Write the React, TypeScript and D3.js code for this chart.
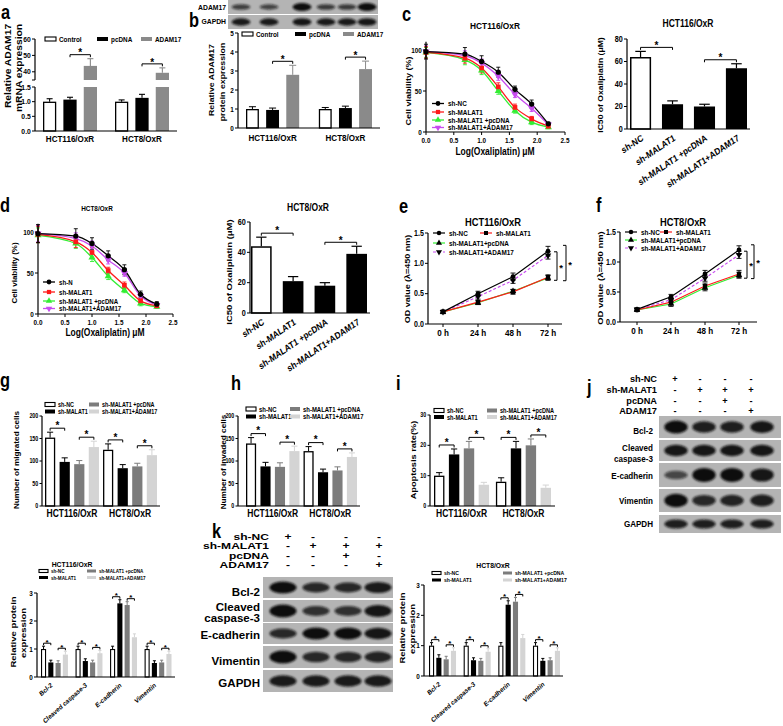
import React from 'react';
import * as d3 from 'd3';

const FF = '"Liberation Sans", Arial, Helvetica, sans-serif';
const SX = 0.85;

// ---------------- DATA ----------------
// panels a & b
const abGroups = ['HCT116/OxR', 'HCT8/OxR'];
const abSeries = ['Control', 'pcDNA', 'ADAM17'];
const aMean = [[1.0, 1.07, 43.6], [1.0, 1.13, 39.4]];
const aErr = [[0.1, 0.08, 4.4], [0.06, 0.12, 3.0]];
const aTicksLow = [0, 0.5, 1.0, 1.5];
const aTicksHigh = [40, 50, 60];
const bMean = [[1.0, 0.95, 2.8], [1.0, 1.05, 3.1]];
const bErr = [[0.12, 0.1, 0.5], [0.08, 0.1, 0.42]];
const bTicks = [0, 1, 2, 3, 4, 5];
const bBlotLabels = ['ADAM17', 'GAPDH'];
const bBlotBands = [[0.45, 0.4, 1.0, 0.5, 0.5, 1.0], [0.85, 0.85, 0.9, 0.85, 0.85, 0.9]];

// panels c & d (dose response)
const doseSeries = ['sh-NC', 'sh-MALAT1', 'sh-MALAT1 +pcDNA', 'sh-MALAT1+ADAM17'];
const dLegendLabels = ['sh-N', 'sh-MALAT1', 'sh-MALAT1 +pcDNA', 'sh-MALAT1+ADAM17'];
const logDose = [0, 0.7, 1.0, 1.3, 1.6, 1.9, 2.2];
const doseTicksX = [0, 0.5, 1.0, 1.5, 2.0, 2.5];
const doseTicksY = [0, 50, 100];
const cViab = [
  [98, 95, 86, 73, 52, 34, 10],
  [97, 90, 78, 55, 30, 16, 7],
  [97, 88, 75, 50, 26, 12, 6],
  [98, 93, 84, 68, 46, 29, 9],
];
const cViabErr = [
  [9, 8, 7, 6, 4, 5, 2],
  [7, 6, 6, 5, 4, 3, 2],
  [6, 6, 5, 4, 3, 3, 2],
  [7, 6, 5, 5, 4, 4, 2],
];
const dViab = [
  [98, 95, 86, 71, 54, 24, 12],
  [97, 88, 75, 53, 35, 16, 10],
  [96, 86, 69, 46, 29, 13, 9],
  [98, 92, 83, 66, 50, 22, 11],
];
const dViabErr = [
  [11, 9, 7, 6, 6, 4, 3],
  [10, 7, 6, 4, 4, 3, 2],
  [9, 6, 5, 4, 3, 3, 2],
  [10, 7, 6, 5, 4, 3, 2],
];
const icCats = ['sh-NC', 'sh-MALAT1', 'sh-MALAT1 +pcDNA', 'sh-MALAT1+ADAM17'];
const cIC50 = [64, 22, 20, 54];
const cIC50Err = [5, 3, 2, 4];
const cIC50Ticks = [0, 20, 40, 60, 80];
const dIC50 = [44, 21, 18, 39];
const dIC50Err = [6, 3, 2, 5];
const dIC50Ticks = [0, 20, 40, 60];

// panels e & f (OD growth)
const timeLabels = ['0 h', '24 h', '48 h', '72 h'];
const odSeries = ['sh-NC', 'sh-MALAT1', 'sh-MALAT1+pcDNA', 'sh-MALAT1+ADAM17'];
const odTicks = [0, 0.5, 1.0, 1.5];
const eOD = [
  [0.2, 0.5, 0.78, 1.2],
  [0.2, 0.36, 0.53, 0.77],
  [0.2, 0.35, 0.54, 0.76],
  [0.2, 0.45, 0.72, 1.13],
];
const eODErr = [
  [0.03, 0.04, 0.06, 0.08],
  [0.02, 0.03, 0.04, 0.04],
  [0.02, 0.03, 0.03, 0.04],
  [0.02, 0.04, 0.05, 0.06],
];
const fOD = [
  [0.21, 0.42, 0.8, 1.2],
  [0.2, 0.33, 0.6, 0.8],
  [0.2, 0.3, 0.57, 0.78],
  [0.21, 0.37, 0.73, 1.12],
];
const fODErr = [
  [0.02, 0.04, 0.06, 0.07],
  [0.02, 0.04, 0.05, 0.06],
  [0.02, 0.04, 0.05, 0.05],
  [0.02, 0.04, 0.05, 0.06],
];

// panels g, h, i
const cellGroups = ['HCT116/OxR', 'HCT8/OxR'];
const fourSeries = ['sh-NC', 'sh-MALAT1', 'sh-MALAT1 +pcDNA', 'sh-MALAT1+ADAM17'];
const gMean = [[152, 98, 93, 131], [125, 84, 88, 113]];
const gErr = [[12, 9, 8, 13], [13, 8, 7, 12]];
const ghTicks = [0, 50, 100, 150, 200];
const hMean = [[139, 88, 87, 122], [122, 75, 79, 109]];
const hErr = [[13, 9, 9, 11], [10, 7, 8, 9]];
const iMean = [[10, 17, 19, 7], [8, 19, 20, 6]];
const iErr = [[1.0, 1.8, 2.3, 0.8], [1.3, 2.3, 2.1, 0.9]];
const iTicks = [0, 10, 20, 30];

// western blots j & k, protein quantification
const proteins = ['Bcl-2', 'Cleaved caspase-3', 'E-cadherin', 'Vimentin'];
const blotLabels = [['Bcl-2'], ['Cleaved', 'caspase-3'], ['E-cadherin'], ['Vimentin'], ['GAPDH']];
const condRows = ['sh-NC', 'sh-MALAT1', 'pcDNA', 'ADAM17'];
const condSigns = [
  ['+', '-', '-', '-'],
  ['-', '+', '+', '+'],
  ['-', '-', '+', '-'],
  ['-', '-', '-', '+'],
];
const jBands = [
  [1.0, 0.8, 0.8, 0.9],
  [0.9, 0.9, 0.9, 0.9],
  [0.35, 1.0, 1.0, 0.9],
  [1.0, 0.7, 0.75, 0.8],
  [0.8, 0.8, 0.8, 0.8],
];
const kBands = [
  [1.0, 0.7, 0.7, 0.85],
  [1.0, 0.6, 0.6, 0.9],
  [0.7, 1.0, 1.0, 0.9],
  [1.0, 0.7, 0.7, 0.75],
  [0.85, 0.85, 0.85, 0.85],
];
const protTicks = [0, 1, 2, 3];
const pLeftMean = [[1.0, 0.52, 0.5, 0.8], [1.0, 0.57, 0.52, 0.85], [1.0, 2.63, 2.57, 1.42], [1.0, 0.5, 0.52, 0.82]];
const pLeftErr = [[0.1, 0.08, 0.08, 0.12], [0.1, 0.08, 0.08, 0.1], [0.1, 0.13, 0.12, 0.12], [0.1, 0.08, 0.08, 0.1]];
const pRightMean = [[1.0, 0.6, 0.55, 0.83], [1.0, 0.52, 0.5, 0.8], [1.0, 2.35, 2.45, 1.25], [1.0, 0.5, 0.52, 0.83]];
const pRightErr = [[0.1, 0.1, 0.1, 0.1], [0.1, 0.08, 0.08, 0.1], [0.1, 0.13, 0.14, 0.12], [0.1, 0.08, 0.08, 0.1]];

// ---------------- STYLE ----------------
const abFills = ['#fff', '#000', '#8a8a8a'];
const fourFills = ['#fff', '#000', '#7c7c7c', '#d4d4d4'];
const icFills = ['#fff', '#000', '#000', '#000'];
const doseColors = ['#000000', '#ff1a1a', '#33ee33', '#c84cf0'];
const symTypes = [d3.symbolCircle, d3.symbolSquare, d3.symbolTriangle, d3.symbolTriangle];

// ---------------- HELPERS ----------------
function Txt({ x, y, fs = 8, anchor = 'start', bold = true, rot = 0, sx = SX, base = 'central', fill = '#000', children }: any) {
  return (
    <text
      transform={`translate(${x} ${y}) scale(${sx} 1)${rot ? ` rotate(${rot})` : ''}`}
      fontSize={fs}
      fontWeight={bold ? 'bold' : 'normal'}
      textAnchor={anchor}
      dominantBaseline={base}
      fill={fill}
      fontFamily={FF}
    >
      {children}
    </text>
  );
}

function Letter({ x, y, ch }: any) {
  return <Txt x={x} y={y} fs={20} sx={0.82} base="alphabetic">{ch}</Txt>;
}

function Star({ x, y, fs = 10 }: any) {
  return <Txt x={x} y={y + 0.58 * fs} fs={fs} sx={1} anchor="middle" base="alphabetic">*</Txt>;
}

function Bracket({ x1, x2, y, tk = 2.5, fs = 10, so = 4 }: any) {
  return (
    <g>
      <path d={`M${x1},${y + tk}V${y}H${x2}V${y + tk}`} fill="none" stroke="#000" strokeWidth={1} />
      <Star x={(x1 + x2) / 2} y={y - so} fs={fs} />
    </g>
  );
}

function Bar({ x, y, w, h, fill, sw = 1.3 }: any) {
  if (fill === '#fff')
    return <rect x={x + sw / 2} y={y + sw / 2} width={Math.max(0, w - sw)} height={Math.max(0, h - sw / 2)} fill="#fff" stroke="#000" strokeWidth={sw} />;
  return <rect x={x} y={y} width={w} height={h} fill={fill} />;
}

function ErrUp({ x, y1, y2, w, color, sw = 1 }: any) {
  return (
    <g stroke={color} strokeWidth={sw}>
      <line x1={x} x2={x} y1={y1} y2={y2} />
      <line x1={x - w / 2} x2={x + w / 2} y1={y2} y2={y2} />
    </g>
  );
}

function YAxis({ y, x, ticks, fmt = (d: number) => String(d), fs = 8, top, bottom, tl = 3 }: any) {
  const y0 = bottom ?? y(y.domain()[0]);
  const y1 = top ?? y(y.domain()[1]);
  return (
    <g>
      <line x1={x} x2={x} y1={y0} y2={y1} stroke="#000" strokeWidth={1.2} />
      {ticks.map((t: number) => (
        <g key={t}>
          <line x1={x - tl} x2={x} y1={y(t)} y2={y(t)} stroke="#000" strokeWidth={1} />
          <Txt x={x - tl - 1.2} y={y(t)} fs={fs} anchor="end">{fmt(t)}</Txt>
        </g>
      ))}
    </g>
  );
}

function LegendBox({ x, y, fill, label, fs = 7.5, w = 11, h = 4 }: any) {
  return (
    <g>
      <rect x={x} y={y - h / 2} width={w} height={h} fill={fill} stroke={fill === '#fff' ? '#000' : 'none'} strokeWidth={1.1} />
      <Txt x={x + w + 3} y={y} fs={fs}>{label}</Txt>
    </g>
  );
}

function Mark({ x, y, i, color, size = 20 }: any) {
  const p = d3.symbol().type(symTypes[i]).size(size)() as string;
  return <path d={p} transform={`translate(${x},${y})${i === 3 ? ' rotate(180)' : ''}`} fill={color} />;
}

// Generic grouped bar chart
function GroupedBars(p: any) {
  const xg = d3.scaleBand<string>().domain(p.groups).range(p.xRange).paddingInner(p.padG);
  const xs = d3.scaleBand<string>().domain(p.series).range([0, xg.bandwidth()]).paddingInner(p.padS);
  const y = d3.scaleLinear().domain(p.yDomain).range(p.yRange);
  const y0 = y(0);
  const bw = xs.bandwidth();
  const cap = Math.min(p.capMax ?? 7, bw * 0.6);
  const els: any[] = [];
  p.groups.forEach((g: string, gi: number) => {
    p.series.forEach((s: string, si: number) => {
      const v = p.mean[gi][si];
      const e = p.err[gi][si];
      const x0 = (xg(g) as number) + (xs(s) as number);
      const fill = p.fills[si];
      const ec = fill === '#fff' ? '#000' : fill;
      els.push(<ErrUp key={`e${gi}-${si}`} x={x0 + bw / 2} y1={y(v)} y2={y(v + e)} w={cap} color={ec} sw={p.errW ?? 1} />);
      els.push(<Bar key={`b${gi}-${si}`} x={x0} y={y(v)} w={bw} h={y0 - y(v)} fill={fill} sw={p.barSW ?? 1.3} />);
    });
    (p.pairs || []).forEach(([a, b]: number[], k: number) => {
      const xa = (xg(g) as number) + (xs(p.series[a]) as number) + bw / 2;
      const xb = (xg(g) as number) + (xs(p.series[b]) as number) + bw / 2;
      const top = Math.min(y(p.mean[gi][a] + p.err[gi][a]), y(p.mean[gi][b] + p.err[gi][b])) - (p.gap ?? 4);
      els.push(<Bracket key={`k${gi}-${k}`} x1={xa} x2={xb} y={top} fs={p.starFs ?? 10} tk={p.tk ?? 2.5} so={p.so ?? 4} />);
    });
    if (p.labelMode === 'rot') {
      els.push(
        <Txt key={`l${gi}`} x={(xg(g) as number) + xg.bandwidth() / 2 + (p.labelDx ?? 0)} y={y0 + (p.labelDy ?? 6)} fs={p.labelFs} anchor="end" rot={p.labelRot ?? -35}>
          {g}
        </Txt>
      );
    } else {
      els.push(
        <Txt key={`l${gi}`} x={(xg(g) as number) + xg.bandwidth() / 2} y={y0 + (p.labelDy ?? 7)} fs={p.labelFs} anchor="middle">
          {g}
        </Txt>
      );
    }
  });
  return (
    <g>
      {els}
      <line x1={p.axisX} x2={p.axisEnd} y1={y0} y2={y0} stroke="#000" strokeWidth={1.2} />
      <YAxis y={y} x={p.axisX} ticks={p.ticks} fs={p.tickFs ?? 8} fmt={p.fmt} tl={p.tl ?? 3} />
    </g>
  );
}

function IC50Chart(p: any) {
  const x = d3.scaleBand<string>().domain(icCats).range(p.xRange).paddingInner(p.pad);
  const y = d3.scaleLinear().domain(p.yDomain).range(p.yRange);
  const y0 = y(0);
  const bw = x.bandwidth();
  const cx = (c: string) => (x(c) as number) + bw / 2;
  const pairs = [[0, 1], [2, 3]];
  return (
    <g>
      {icCats.map((c, i) => (
        <g key={c}>
          <ErrUp x={cx(c)} y1={y(p.vals[i])} y2={y(p.vals[i] + p.errs[i])} w={bw * 0.5} color="#000" sw={1.2} />
          <Bar x={x(c)} y={y(p.vals[i])} w={bw} h={y0 - y(p.vals[i])} fill={icFills[i]} sw={1.5} />
          <Txt x={cx(c) + (p.labelDx ?? 2)} y={y0 + (p.labelDy ?? 8)} fs={p.labelFs ?? 9.5} anchor="end" rot={-30}>{c}</Txt>
        </g>
      ))}
      {pairs.map(([a, b], k) => {
        const top = Math.min(y(p.vals[a] + p.errs[a]), y(p.vals[b] + p.errs[b])) - 4;
        return <Bracket key={k} x1={cx(icCats[a])} x2={cx(icCats[b])} y={top} fs={10} so={4.5} />;
      })}
      <line x1={p.axisX} x2={p.axisEnd} y1={y0} y2={y0} stroke="#000" strokeWidth={1.2} />
      <YAxis y={y} x={p.axisX} ticks={p.ticks} fs={8.5} />
    </g>
  );
}

function DoseChart(p: any) {
  const x = d3.scaleLinear().domain([0, 2.5]).range(p.xr);
  const y = d3.scaleLinear().domain([0, 100]).range(p.yr);
  const line = d3
    .line<number>()
    .x((_, i) => x(logDose[i]))
    .y((d) => y(d))
    .curve(d3.curveMonotoneX);
  const order = [3, 2, 1, 0];
  const y0 = y(0);
  return (
    <g>
      {order.map((si) => (
        <path key={`l${si}`} d={line(p.viab[si]) as string} fill="none" stroke={doseColors[si]} strokeWidth={1.3} />
      ))}
      {order.map((si) =>
        p.viab[si].map((v: number, i: number) => {
          const e = p.err[si][i];
          const xx = x(logDose[i]);
          return (
            <g key={`e${si}-${i}`} stroke={doseColors[si]} strokeWidth={0.9}>
              <line x1={xx} x2={xx} y1={y(v - e)} y2={y(v + e)} />
              <line x1={xx - 2} x2={xx + 2} y1={y(v - e)} y2={y(v - e)} />
              <line x1={xx - 2} x2={xx + 2} y1={y(v + e)} y2={y(v + e)} />
            </g>
          );
        })
      )}
      {order.map((si) =>
        p.viab[si].map((v: number, i: number) => <Mark key={`m${si}-${i}`} x={x(logDose[i])} y={y(v)} i={si} color={doseColors[si]} size={22} />)
      )}
      {/* axes */}
      <line x1={x(0)} x2={x(2.5)} y1={y0} y2={y0} stroke="#000" strokeWidth={1.2} />
      {doseTicksX.map((t) => (
        <g key={`xt${t}`}>
          <line x1={x(t)} x2={x(t)} y1={y0} y2={y0 + 3} stroke="#000" strokeWidth={1} />
          <Txt x={x(t)} y={y0 + 8} fs={p.tickFs ?? 7.5} anchor="middle">{d3.format('.1f')(t)}</Txt>
        </g>
      ))}
      <YAxis y={y} x={x(0)} ticks={doseTicksY} fs={p.tickFs ?? 7.5} top={y(110)} />
      {/* legend */}
      {p.labels.map((lab: string, si: number) => (
        <g key={`lg${si}`}>
          <line x1={p.legX} x2={p.legX + 12} y1={p.legYs[si]} y2={p.legYs[si]} stroke={doseColors[si]} strokeWidth={1.3} />
          <Mark x={p.legX + 6} y={p.legYs[si]} i={si} color={doseColors[si]} size={18} />
          <Txt x={p.legX + 16} y={p.legYs[si]} fs={p.legFs}>{lab}</Txt>
        </g>
      ))}
    </g>
  );
}

function TimeChart(p: any) {
  const x = d3.scalePoint<string>().domain(timeLabels).range(p.xr);
  const y = d3.scaleLinear().domain([0, 1.5]).range(p.yr);
  const y0 = y(0);
  const line = d3
    .line<number>()
    .x((_, i) => x(timeLabels[i]) as number)
    .y((d) => y(d));
  const order = [3, 2, 1, 0];
  const dash = (si: number) => (si === 3 ? '3,2' : undefined);
  const last = timeLabels.length - 1;
  const outerTop = y(p.od[0][last] + p.err[0][last]);
  const outerBot = y(p.od[1][last] - p.err[1][last]);
  const innerTop = y(p.od[3][last] + p.err[3][last]);
  const innerBot = y(p.od[2][last] - p.err[2][last]);
  const vb = (bx: number, t: number, b: number) => (
    <g>
      <path d={`M${bx - 3},${t}H${bx}V${b}H${bx - 3}`} fill="none" stroke="#000" strokeWidth={1} />
      <Txt x={bx + 4} y={(t + b) / 2 + 4.5} fs={9.5} sx={1} anchor="middle" base="alphabetic">*</Txt>
    </g>
  );
  return (
    <g>
      {order.map((si) => (
        <path key={`l${si}`} d={line(p.od[si]) as string} fill="none" stroke={doseColors[si]} strokeWidth={1.2} strokeDasharray={dash(si)} />
      ))}
      {order.map((si) =>
        p.od[si].map((v: number, i: number) => {
          const e = p.err[si][i];
          const xx = x(timeLabels[i]) as number;
          return (
            <g key={`e${si}-${i}`} stroke="#000" strokeWidth={0.9}>
              <line x1={xx} x2={xx} y1={y(v - e)} y2={y(v + e)} />
              <line x1={xx - 2.5} x2={xx + 2.5} y1={y(v - e)} y2={y(v - e)} />
              <line x1={xx - 2.5} x2={xx + 2.5} y1={y(v + e)} y2={y(v + e)} />
            </g>
          );
        })
      )}
      {order.map((si) =>
        p.od[si].map((v: number, i: number) => <Mark key={`m${si}-${i}`} x={x(timeLabels[i])} y={y(v)} i={si} color="#000" size={18} />)
      )}
      {vb(p.bx1, innerTop, innerBot)}
      {vb(p.bx2, outerTop - 1, outerBot + 1)}
      <line x1={p.axisX} x2={p.axisEnd} y1={y0} y2={y0} stroke="#000" strokeWidth={1.2} />
      {timeLabels.map((t) => (
        <g key={t}>
          <line x1={x(t) as number} x2={x(t) as number} y1={y0} y2={y0 + 3} stroke="#000" strokeWidth={1} />
          <Txt x={x(t)} y={y0 + 9} fs={9.5} anchor="middle">{t}</Txt>
        </g>
      ))}
      <YAxis y={y} x={p.axisX} ticks={odTicks} fs={8.3} fmt={d3.format('.1f')} />
      {/* legend */}
      {[0, 1, 2, 3].map((si) => {
        const [lx, ly] = p.leg[si];
        return (
          <g key={`lg${si}`}>
            <line x1={lx} x2={lx + 12} y1={ly} y2={ly} stroke={doseColors[si]} strokeWidth={1.2} strokeDasharray={dash(si)} />
            <Mark x={lx + 6} y={ly} i={si} color="#000" size={16} />
            <Txt x={lx + 16} y={ly} fs={7.5}>{odSeries[si]}</Txt>
          </g>
        );
      })}
    </g>
  );
}

function BlotStrip({ x0, x1, y0, y1, lanes, bands, laneW, bg = '#b4b4b4' }: any) {
  const cy = (y0 + y1) / 2;
  const h = y1 - y0;
  return (
    <g>
      <rect x={x0} y={y0} width={x1 - x0} height={h} fill={bg} />
      <g filter="url(#bandBlur)">
        {lanes.map((lx: number, i: number) => (
          <ellipse key={i} cx={lx} cy={cy} rx={laneW * 0.45} ry={h * (0.12 + 0.17 * bands[i])} fill="#111" opacity={0.5 + 0.5 * bands[i]} />
        ))}
      </g>
    </g>
  );
}

function BlotPanel(p: any) {
  return (
    <g>
      {condRows.map((r, ri) => (
        <g key={r}>
          <Txt x={p.headX} y={p.headYs[ri]} fs={p.headFs} anchor="end" sx={p.sx}>{r}</Txt>
          {condSigns[ri].map((s, ci) => (
            <Txt key={ci} x={p.signXs[ci]} y={p.headYs[ri]} fs={p.headFs} anchor="middle" sx={p.sx}>{s}</Txt>
          ))}
        </g>
      ))}
      {blotLabels.map((lines, bi) => (
        <g key={bi}>
          <BlotStrip x0={p.x0} x1={p.x1} y0={p.rows[bi][0]} y1={p.rows[bi][1]} lanes={p.lanes} bands={p.bands[bi]} laneW={p.laneW} />
          {lines.map((ln, li) => (
            <Txt key={li} x={p.labX} y={p.labYs[bi][li]} fs={p.labFs} anchor="end" sx={p.labSx ?? p.sx}>{ln}</Txt>
          ))}
        </g>
      ))}
    </g>
  );
}

// ---------------- PANELS ----------------
function PanelA() {
  const yLo = d3.scaleLinear().domain([0, 1.5]).range([131, 87]);
  const yHi = d3.scaleLinear().domain([35, 60]).range([80, 39]);
  const xg = d3.scaleBand<string>().domain(abGroups).range([43, 169]).paddingInner(0.25);
  const xs = d3.scaleBand<string>().domain(abSeries).range([0, xg.bandwidth()]).paddingInner(0.35);
  const bw = xs.bandwidth();
  const axX = 35;
  const els: any[] = [];
  abGroups.forEach((g, gi) => {
    const tops: number[] = [];
    abSeries.forEach((s, si) => {
      const v = aMean[gi][si];
      const e = aErr[gi][si];
      const x0 = (xg(g) as number) + (xs(s) as number);
      const cx = x0 + bw / 2;
      const fill = abFills[si];
      const broken = v > 1.5;
      const yTop = broken ? yHi(v) : yLo(v);
      const yE = broken ? yHi(v + e) : yLo(v + e);
      tops.push(yE);
      els.push(<ErrUp key={`e${gi}${si}`} x={cx} y1={yTop} y2={yE} w={6} color={fill === '#fff' ? '#000' : fill} sw={1.1} />);
      if (broken) {
        els.push(<rect key={`bl${gi}${si}`} x={x0} y={yLo(1.5)} width={bw} height={yLo(0) - yLo(1.5)} fill={fill} />);
        els.push(<rect key={`bh${gi}${si}`} x={x0} y={yTop} width={bw} height={yHi(35) - yTop} fill={fill} />);
      } else {
        els.push(<Bar key={`b${gi}${si}`} x={x0} y={yTop} w={bw} h={yLo(0) - yTop} fill={fill} />);
      }
    });
    const xa = (xg(g) as number) + (xs(abSeries[1]) as number) + bw / 2;
    const xb = (xg(g) as number) + (xs(abSeries[2]) as number) + bw / 2;
    els.push(<Bracket key={`k${gi}`} x1={xa} x2={xb} y={Math.min(tops[1], tops[2]) - 4} fs={10} so={4} />);
    els.push(<Txt key={`g${gi}`} x={(xg(g) as number) + xg.bandwidth() / 2} y={138.5} fs={9.5} anchor="middle">{g}</Txt>);
  });
  return (
    <g>
      <Letter x={1} y={19} ch="a" />
      {els}
      <line x1={axX} x2={177} y1={131} y2={131} stroke="#000" strokeWidth={1.2} />
      <YAxis y={yLo} x={axX} ticks={aTicksLow} fs={8} fmt={d3.format('.1f')} />
      <YAxis y={yHi} x={axX} ticks={aTicksHigh} fs={8} bottom={80} />
      <line x1={axX - 3} x2={axX} y1={80} y2={80} stroke="#000" strokeWidth={1} />
      <LegendBox x={45} y={39} fill={abFills[0]} label={abSeries[0]} fs={7.5} />
      <LegendBox x={97} y={39} fill={abFills[1]} label={abSeries[1]} fs={7.5} />
      <LegendBox x={141} y={39} fill={abFills[2]} label={abSeries[2]} fs={7.5} />
      <Txt x={7.5} y={66} fs={10.3} anchor="middle" rot={-90}>Relative ADAM17</Txt>
      <Txt x={19} y={68} fs={10.3} anchor="middle" rot={-90}>mRNA expression</Txt>
    </g>
  );
}

function PanelB() {
  const lanes = [241, 269, 302, 326, 347, 367];
  return (
    <g>
      <Letter x={189} y={27} ch="b" />
      <BlotStrip x0={228} x1={378} y0={0} y1={14} lanes={lanes} bands={bBlotBands[0]} laneW={21} />
      <BlotStrip x0={228} x1={378} y0={15} y1={29} lanes={lanes} bands={bBlotBands[1]} laneW={21} />
      <Txt x={226} y={7} fs={8} anchor="end">{bBlotLabels[0]}</Txt>
      <Txt x={226} y={21.5} fs={8} anchor="end">{bBlotLabels[1]}</Txt>
      <GroupedBars
        groups={abGroups}
        series={abSeries}
        mean={bMean}
        err={bErr}
        fills={abFills}
        xRange={[246, 372]}
        padG={0.27}
        padS={0.36}
        yDomain={[0, 5]}
        yRange={[128, 33]}
        ticks={bTicks}
        axisX={238}
        axisEnd={380}
        pairs={[[1, 2]]}
        labelFs={9.5}
        labelDy={10}
        tickFs={7.5}
      />
      <LegendBox x={242} y={34} fill={abFills[0]} label={abSeries[0]} fs={7.5} />
      <LegendBox x={295} y={34} fill={abFills[1]} label={abSeries[1]} fs={7.5} />
      <LegendBox x={343} y={34} fill={abFills[2]} label={abSeries[2]} fs={7.5} />
      <Txt x={212} y={80} fs={8.8} anchor="middle" rot={-90}>Relative ADAM17</Txt>
      <Txt x={223} y={82} fs={8.8} anchor="middle" rot={-90}>protein expression</Txt>
    </g>
  );
}

function PanelC() {
  return (
    <g>
      <Letter x={402} y={21} ch="c" />
      <Txt x={495} y={26} fs={9.8} anchor="middle">HCT116/OxR</Txt>
      <DoseChart xr={[426, 565]} yr={[132, 50]} viab={cViab} err={cViabErr} labels={doseSeries} legX={432} legYs={[103.5, 112, 120, 127.5]} legFs={7.5} />
      <Txt x={495} y={152} fs={10} anchor="middle">Log(Oxaliplatin) μM</Txt>
      <Txt x={408} y={91} fs={9} anchor="middle" rot={-90}>Cell viability (%)</Txt>
      <Txt x={688} y={24} fs={10} anchor="middle">HCT116/OxR</Txt>
      <IC50Chart vals={cIC50} errs={cIC50Err} xRange={[630, 747]} pad={0.34} yDomain={[0, 80]} yRange={[129, 39]} ticks={cIC50Ticks} axisX={627} axisEnd={750} labelDy={8} />
      <Txt x={601} y={85} fs={8.6} anchor="middle" rot={-90}>IC50 of Oxaliplatin (μM)</Txt>
    </g>
  );
}

function PanelD() {
  return (
    <g>
      <Letter x={0} y={212} ch="d" />
      <Txt x={97} y={208} fs={7.5} anchor="middle">HCT8/OxR</Txt>
      <DoseChart xr={[38, 173]} yr={[314, 232]} viab={dViab} err={dViabErr} labels={dLegendLabels} legX={43} legYs={[282, 292, 301, 308.5]} legFs={7.2} />
      <Txt x={105} y={333} fs={10} anchor="middle">Log(Oxaliplatin) μM</Txt>
      <Txt x={15} y={273} fs={8} anchor="middle" rot={-90}>Cell viability (%)</Txt>
      <Txt x={308} y={208} fs={10} anchor="middle">HCT8/OxR</Txt>
      <IC50Chart vals={dIC50} errs={dIC50Err} xRange={[251, 367]} pad={0.35} yDomain={[0, 60]} yRange={[313, 222]} ticks={dIC50Ticks} axisX={250} axisEnd={370} labelDy={8} />
      <Txt x={229} y={272} fs={9.5} anchor="middle" rot={-90}>IC50 of Oxaliplatin (μM)</Txt>
    </g>
  );
}

function PanelE() {
  return (
    <g>
      <Letter x={399} y={213} ch="e" />
      <Txt x={493} y={222} fs={11} anchor="middle">HCT116/OxR</Txt>
      <TimeChart
        xr={[443, 548]}
        yr={[324, 233]}
        od={eOD}
        err={eODErr}
        axisX={428}
        axisEnd={562}
        bx1={557}
        bx2={566}
        leg={[[433, 233], [480, 233], [433, 243], [433, 252]]}
      />
      <Txt x={407} y={279} fs={9} anchor="middle" rot={-90}>OD value (λ=450 nm)</Txt>
    </g>
  );
}

function PanelF() {
  return (
    <g>
      <Letter x={596} y={212} ch="f" />
      <Txt x={683} y={222} fs={11} anchor="middle">HCT8/OxR</Txt>
      <TimeChart
        xr={[637, 739]}
        yr={[322, 232]}
        od={fOD}
        err={fODErr}
        axisX={620}
        axisEnd={757}
        bx1={747}
        bx2={754}
        leg={[[625, 232], [660, 232], [625, 240], [625, 248]]}
      />
      <Txt x={600} y={278} fs={9.5} anchor="middle" rot={-90}>OD value (λ=450 nm)</Txt>
    </g>
  );
}

function FourLegend({ x1, x2, y1, y2, fs = 7.5, w = 10, h = 4 }: any) {
  return (
    <g>
      <LegendBox x={x1} y={y1} fill={fourFills[0]} label={fourSeries[0]} fs={fs} w={w} h={h} />
      <LegendBox x={x1} y={y2} fill={fourFills[1]} label={fourSeries[1]} fs={fs} w={w} h={h} />
      <LegendBox x={x2} y={y1} fill={fourFills[2]} label={fourSeries[2]} fs={fs} w={w} h={h} />
      <LegendBox x={x2} y={y2} fill={fourFills[3]} label={fourSeries[3]} fs={fs} w={w} h={h} />
    </g>
  );
}

function PanelGHI() {
  const common = { groups: cellGroups, series: fourSeries, fills: fourFills, padS: 0.3, pairs: [[0, 1], [2, 3]], labelFs: 10, labelDy: 7.5, tickFs: 6.3, tl: 2.5, gap: 4, so: 5 };
  return (
    <g>
      <Letter x={0} y={387} ch="g" />
      <GroupedBars {...common} mean={gMean} err={gErr} xRange={[45, 157]} padG={0.07} yDomain={[0, 200]} yRange={[506, 416]} ticks={ghTicks} axisX={42} axisEnd={160} />
      <FourLegend x1={45} x2={89} y1={404.5} y2={411.5} fs={6.4} />
      <Txt x={17} y={460} fs={8.2} anchor="middle" rot={-90}>Number of migrated cells</Txt>

      <Letter x={231} y={390} ch="h" />
      <GroupedBars {...common} mean={hMean} err={hErr} xRange={[246, 357]} padG={0.07} yDomain={[0, 200]} yRange={[506, 416]} ticks={ghTicks} axisX={238} axisEnd={360} />
      <FourLegend x1={246} x2={290} y1={409} y2={416.5} fs={7} />
      <Txt x={224} y={462} fs={8.2} anchor="middle" rot={-90}>Number of invaded cells</Txt>

      <Letter x={396} y={390} ch="i" />
      <GroupedBars {...common} mean={iMean} err={iErr} xRange={[434, 551]} padG={0.11} yDomain={[0, 30]} yRange={[506, 415]} ticks={iTicks} axisX={430} axisEnd={555} />
      <FourLegend x1={434} x2={487} y1={410.5} y2={417} fs={6.6} />
      <Txt x={413} y={460} fs={9.2} anchor="middle" rot={-90}>Apoptosis rate(%)</Txt>
    </g>
  );
}

function PanelJ() {
  return (
    <g>
      <Letter x={587} y={394} ch="j" />
      <BlotPanel
        headX={657}
        headYs={[378.5, 389.5, 400.5, 411]}
        headFs={9.4}
        signXs={[675, 700, 725, 751]}
        sx={0.98}
        x0={659}
        x1={781}
        lanes={[676, 704, 732, 762]}
        laneW={26}
        rows={[[416, 438], [440, 461], [463, 487], [489, 512], [515, 533]]}
        bands={jBands}
        labX={653}
        labYs={[[431], [448, 459], [476], [501], [524]]}
        labFs={9.5}
        labSx={SX}
      />
    </g>
  );
}

function PanelK() {
  return (
    <g>
      <Letter x={212} y={537.5} ch="k" />
      <BlotPanel
        headX={269}
        headYs={[537, 546.5, 556, 565.5]}
        headFs={8.6}
        signXs={[288, 313, 346, 379]}
        sx={1.4}
        labSx={1.1}
        x0={263}
        x1={393}
        lanes={[283, 316, 348, 378]}
        laneW={30}
        rows={[[577, 598], [600, 622], [623, 644], [646, 668], [670, 692]]}
        bands={kBands}
        labX={260}
        labYs={[[592], [607, 618], [635], [661], [683]]}
        labFs={10.5}
      />
    </g>
  );
}

function ProteinPanels() {
  const common = { groups: proteins, series: fourSeries, fills: fourFills, padS: 0.3, pairs: [[0, 1], [2, 3]], labelFs: 7, labelMode: 'rot', labelRot: -37, labelDx: -3, labelDy: 7, tickFs: 7.5, gap: 3, so: 3, starFs: 8, tk: 2, capMax: 4, barSW: 1.1 };
  return (
    <g>
      <Txt x={72} y={564} fs={8} anchor="middle">HCT116/OxR</Txt>
      <GroupedBars {...common} mean={pLeftMean} err={pLeftErr} xRange={[41, 171.5]} padG={0.22} yDomain={[0, 3]} yRange={[677, 593]} ticks={protTicks} axisX={37} axisEnd={175} />
      <FourLegend x1={39} x2={87} y1={571} y2={577.5} fs={5.4} w={9} h={3} />
      <Txt x={13} y={632} fs={9.5} anchor="middle" rot={-90}>Relative protein</Txt>
      <Txt x={23} y={633} fs={9.5} anchor="middle" rot={-90}>expression</Txt>

      <Txt x={493} y={565} fs={8} anchor="middle">HCT8/OxR</Txt>
      <GroupedBars {...common} mean={pRightMean} err={pRightErr} xRange={[429, 560]} padG={0.22} yDomain={[0, 3]} yRange={[676, 585]} ticks={protTicks} axisX={424} axisEnd={563} />
      <FourLegend x1={432} x2={503} y1={573} y2={580} fs={6} w={9} h={3} />
      <Txt x={402} y={628} fs={9.5} anchor="middle" rot={-90}>Relative protein</Txt>
      <Txt x={412} y={629} fs={9.5} anchor="middle" rot={-90}>expression</Txt>
    </g>
  );
}

export default function App() {
  return (
    <svg width={783} height={726} style={{ position: 'absolute', left: 0, top: 0, display: 'block' }} fontFamily={FF}>
      <defs>
        <filter id="bandBlur" x="-30%" y="-80%" width="160%" height="260%">
          <feGaussianBlur stdDeviation="1.3" />
        </filter>
      </defs>
      <rect width={783} height={726} fill="#fff" />
      <PanelA />
      <PanelB />
      <PanelC />
      <PanelD />
      <PanelE />
      <PanelF />
      <PanelGHI />
      <PanelJ />
      <PanelK />
      <ProteinPanels />
    </svg>
  );
}
